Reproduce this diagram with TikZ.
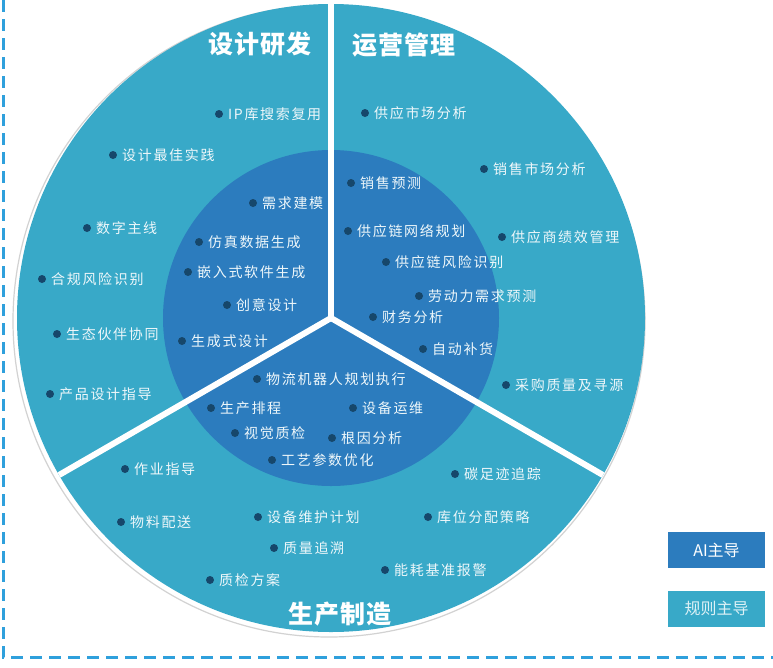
\documentclass[tikz,border=0pt]{standalone}
\usepackage{fontspec}
\usetikzlibrary{calc}
\setmainfont{Noto Sans CJK SC}
\newfontfamily\itemfont{Noto Sans CJK SC}[LetterSpace=12]
\newfontfamily\titlefont{Noto Sans CJK SC}[LetterSpace=5]
\definecolor{outerc}{HTML}{38A9C8}
\definecolor{innerc}{HTML}{2C7CBE}
\definecolor{dotc}{HTML}{16476B}
\definecolor{borderc}{HTML}{2FA0DC}
\definecolor{txtc}{HTML}{EEF7FA}
\definecolor{legtxt}{HTML}{DDF1F6}
\tikzset{
  lbl/.style={anchor=west, inner sep=0pt, text=txtc, font=\itemfont\fontsize{14}{14}\selectfont},
  ttl/.style={inner sep=0pt, text=white, font=\titlefont\bfseries\fontsize{25}{25}\selectfont},
  divider/.style={white, line width=6pt},
  legbox/.style={minimum width=97pt, minimum height=36pt, inner sep=0pt, font=\fontsize{16}{16}\selectfont}
}
\newcommand\bul[4]{\fill[dotc] (#1,#2) circle (4pt); \node[lbl] (#3) at (#1+9,#2) {#4};}
\begin{document}
\begin{tikzpicture}[x=1pt,y=-1pt]
\useasboundingbox (0,0) rectangle (773,667);
\fill[white] (0,0) rectangle (773,667);
% border
\draw[borderc, line width=3pt, dash pattern=on 12pt off 7pt] (3,0) -- (3,657) -- (773,657);
% circles
\coordinate (c) at (331,318);
\draw[gray!35, line width=1.2pt] (329,321) circle (316pt);
\fill[outerc] (c) circle (314pt);
\fill[innerc] (c) circle (168pt);
\coordinate (top) at (331,0);
\coordinate (ll) at ($(c)+(210:314pt)$);
\coordinate (lr) at ($(c)+(-30:314pt)$);
\draw[divider] (c) -- (top);
\draw[divider] (c) -- (ll);
\draw[divider] (c) -- (lr);
% titles
\node[ttl] (t1) at (260,44) {设计研发};
\node[ttl] (t2) at (404,45) {运营管理};
\node[ttl] (t3) at (340,614) {生产制造};
% design
\bul{219}{114}{a1}{IP库搜索复用}
\bul{113}{155}{a2}{设计最佳实践}
\bul{253}{203}{a3}{需求建模}
\bul{87}{228}{a4}{数字主线}
\bul{199}{242}{a5}{仿真数据生成}
\bul{188}{272}{a6}{嵌入式软件生成}
\bul{42}{279}{a7}{合规风险识别}
\bul{227}{305}{a8}{创意设计}
\bul{57}{334}{a9}{生态伙伴协同}
\bul{182}{341}{a10}{生成式设计}
\bul{50}{394}{a11}{产品设计指导}
% operations
\bul{365}{113}{b1}{供应市场分析}
\bul{484}{169}{b2}{销售市场分析}
\bul{351}{183}{b3}{销售预测}
\bul{348}{231}{b4}{供应链网络规划}
\bul{502}{237}{b5}{供应商绩效管理}
\bul{386}{262}{b6}{供应链风险识别}
\bul{419}{296}{b7}{劳动力需求预测}
\bul{373}{317}{b8}{财务分析}
\bul{423}{349}{b9}{自动补货}
\bul{506}{385}{b10}{采购质量及寻源}
% manufacturing
\bul{257}{379}{m1}{物流机器人规划执行}
\bul{211}{408}{m2}{生产排程}
\bul{353}{408}{m3}{设备运维}
\bul{235}{433}{m4}{视觉质检}
\bul{332}{438}{m5}{根因分析}
\bul{272}{460}{m6}{工艺参数优化}
\bul{125}{469}{m7}{作业指导}
\bul{455}{474}{m8}{碳足迹追踪}
\bul{121}{522}{m9}{物料配送}
\bul{258}{517}{m10}{设备维护计划}
\bul{428}{517}{m11}{库位分配策略}
\bul{274}{548}{m12}{质量追溯}
\bul{385}{570}{m13}{能耗基准报警}
\bul{210}{580}{m14}{质检方案}
% legend
\node[legbox, fill=innerc, text=white] (l1) at (716.5,550) {AI主导};
\node[legbox, fill=outerc, text=legtxt] (l2) at (716.5,608.5) {规则主导};
\end{tikzpicture}
\end{document}
